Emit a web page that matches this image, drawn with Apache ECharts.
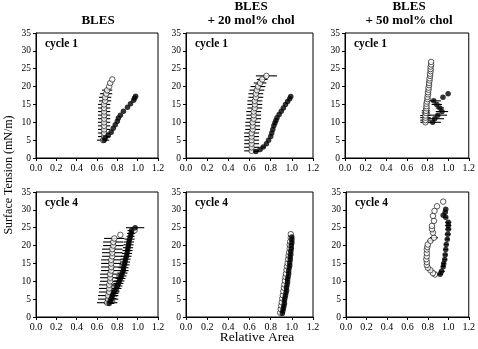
<!DOCTYPE html>
<html><head><meta charset="utf-8">
<script src="https://cdn.jsdelivr.net/npm/echarts@6/dist/echarts.min.js"></script>
<style>html,body{margin:0;padding:0;background:#fff}#c{width:478px;height:349px}</style>
</head><body><div id="c"></div>
<script>
// Tick labels / axis ranges
const xTicks = [0, 0.2, 0.4, 0.6, 0.8, 1.0, 1.2];
const yTicks = [0, 5, 10, 15, 20, 25, 30, 35];
const columnTitles = ['BLES', 'BLES\n+ 20 mol% chol', 'BLES\n+ 50 mol% chol'];
const cycleLabels = ['cycle 1', 'cycle 1', 'cycle 1', 'cycle 4', 'cycle 4', 'cycle 4'];

// Data: [relative area, surface tension, horizontal error]
const bles1Open = [[0.66,5,0.06],[0.67,6,0.06],[0.67,7,0.06],[0.67,8,0.06],[0.67,9,0.06],[0.67,10,0.06],[0.67,11,0.06],[0.67,12,0.06],[0.67,13,0.06],[0.67,14,0.06],[0.67,15,0.06],[0.68,16,0.06],[0.68,17,0.06],[0.69,18,0.06],[0.70,19,0.05],[0.72,20,0],[0.73,21,0],[0.75,22,0]];
const bles1Filled = [[0.67,5,0],[0.68,5.6,0],[0.71,6.3,0],[0.74,7.2,0],[0.76,8.3,0],[0.78,9.3,0],[0.80,10.3,0],[0.81,11.2,0],[0.83,12.0,0],[0.86,13.1,0],[0.90,14.2,0],[0.93,15.2,0],[0.96,16.2,0],[0.97,16.8,0],[0.98,17.3,0]];

const chol20c1Open = [[0.62,2,0.07],[0.62,3,0.07],[0.62,4,0.07],[0.62,5,0.07],[0.62,6,0.07],[0.62,7,0.07],[0.63,8,0.07],[0.63,9,0.07],[0.63,10,0.07],[0.64,11,0.07],[0.64,12,0.07],[0.64,13,0.07],[0.65,14,0.07],[0.65,15,0.07],[0.65,16,0.07],[0.66,17,0.07],[0.66,18,0.07],[0.67,19,0.07],[0.68,20,0.07],[0.70,21,0.06],[0.72,22,0.05],[0.76,23,0.1]];
const chol20c1Filled = [[0.66,1.8,0.03],[0.70,2.4,0],[0.73,3.1,0.02],[0.76,4.0,0],[0.78,5.0,0],[0.80,6.0,0],[0.81,7.0,0],[0.82,8.0,0],[0.83,9.0,0],[0.84,9.8,0],[0.85,10.5,0],[0.86,11.3,0],[0.88,12.2,0],[0.90,13.1,0],[0.92,14.0,0],[0.94,15.0,0],[0.96,15.8,0],[0.98,16.6,0],[0.99,17.2,0]];

const chol50c1Open = [[0.78,10,0.05],[0.78,10.6,0.05],[0.78,11.3,0.05],[0.78,11.9,0.05],[0.785,12.6,0.04],[0.785,13.2,0.04],[0.79,13.9,0.03],[0.79,14.5,0],[0.79,15.2,0],[0.795,15.8,0],[0.80,16.5,0],[0.80,17.1,0],[0.805,17.8,0],[0.805,18.4,0],[0.81,19.1,0],[0.81,19.7,0],[0.815,20.4,0],[0.815,21.0,0],[0.82,21.7,0],[0.82,22.3,0],[0.825,23.0,0],[0.825,23.6,0],[0.83,24.3,0],[0.83,24.9,0],[0.83,25.6,0],[0.835,26.2,0],[0.835,26.9,0]];
const chol50c1Filled = [[0.85,10,0.08],[0.87,11,0.09],[0.90,12,0.09],[0.94,13,0.06],[0.92,14,0.04],[0.89,15,0.05],[0.86,16,0.07],[0.95,17,0],[1.00,18,0]];

const bles4Open = [[0.70,4,0.1],[0.71,5,0.1],[0.71,6,0.1],[0.72,7,0.1],[0.72,8,0.1],[0.72,9,0.1],[0.73,10,0.1],[0.73,11,0.1],[0.73,12,0.1],[0.74,13,0.1],[0.74,14,0.1],[0.74,15,0.1],[0.74,16,0.1],[0.75,17,0.1],[0.75,18,0.1],[0.75,19,0.1],[0.76,20,0.1],[0.76,21,0.1],[0.77,22,0.1],[0.83,23,0],[0.97,24.3,0]];
const bles4Filled = [[0.72,3.8,0.05],[0.73,4.5,0.05],[0.74,5.2,0.05],[0.75,5.9,0.05],[0.76,6.6,0.05],[0.77,7.3,0.05],[0.79,8.0,0.05],[0.80,8.7,0.05],[0.81,9.4,0.05],[0.82,10.1,0.05],[0.83,10.8,0.05],[0.84,11.5,0.05],[0.85,12.3,0.05],[0.86,13.0,0.05],[0.86,13.8,0.05],[0.87,14.6,0.05],[0.875,15.4,0.05],[0.88,16.2,0.05],[0.89,17.0,0.05],[0.895,17.8,0.05],[0.90,18.6,0.05],[0.905,19.4,0.05],[0.91,20.2,0.05],[0.915,21.0,0.05],[0.92,21.8,0.05],[0.93,22.6,0.04],[0.935,23.4,0.04],[0.94,24.2,0.04],[0.975,25.0,0.09]];

const chol20c4Open = [[0.89,1.2,0],[0.895,2.2,0],[0.90,3.2,0],[0.905,4.1,0],[0.91,5.2,0],[0.915,6.1,0],[0.92,7.2,0],[0.925,8.2,0],[0.93,9.1,0],[0.935,10.2,0],[0.94,11.2,0],[0.945,12.1,0],[0.95,13.2,0],[0.955,14.2,0],[0.96,15.1,0],[0.965,16.2,0],[0.97,17.2,0],[0.975,18.1,0],[0.98,19.2,0],[0.98,20.2,0],[0.985,21.1,0],[0.99,22.2,0],[0.99,23.2,0]];
const chol20c4Filled = [[0.91,1.0,0],[0.915,1.7,0],[0.92,2.4,0],[0.925,3.1,0],[0.93,3.8,0],[0.93,4.6,0],[0.935,5.3,0],[0.94,6.0,0],[0.945,6.8,0],[0.95,7.5,0],[0.95,8.3,0],[0.955,9.0,0],[0.96,9.8,0],[0.96,10.6,0],[0.965,11.3,0],[0.97,12.1,0],[0.97,12.9,0],[0.975,13.7,0],[0.98,14.4,0],[0.98,15.2,0],[0.985,16.0,0],[0.985,16.8,0],[0.99,17.6,0],[0.99,18.4,0],[0.995,19.2,0],[0.995,20.0,0],[1.0,20.8,0],[1.0,21.6,0],[1.0,22.4,0]];

const chol50c4Open = [[0.87,11.9,0],[0.85,12.3,0],[0.825,13.1,0.03],[0.80,13.8,0.02],[0.79,14.6,0],[0.79,15.4,0],[0.785,16.2,0],[0.79,17.0,0],[0.79,17.9,0],[0.79,18.9,0],[0.795,19.6,0],[0.80,20.3,0],[0.825,21.3,0.03],[0.86,22.2,0.04],[0.85,23.6,0.02],[0.84,24.6,0],[0.84,25.5,0],[0.86,26.9,0],[0.85,28.3,0],[0.865,29.7,0],[0.89,31.0,0],[0.95,32.3,0]];
const chol50c4Filled = [[0.92,12.0,0.03],[0.935,12.8,0.03],[0.95,14.1,0.02],[0.955,15.0,0.02],[0.965,16.1,0.02],[0.97,17.4,0.02],[0.975,18.9,0.02],[0.98,20.3,0.02],[0.99,21.8,0.02],[0.995,23.2,0.03],[1.0,24.6,0.03],[1.0,25.6,0.03],[1.0,26.5,0.03],[0.975,27.9,0.02],[0.95,28.5,0],[0.97,29.3,0],[0.975,30.2,0]];

const panels = [
  [bles1Open, bles1Filled], [chol20c1Open, chol20c1Filled], [chol50c1Open, chol50c1Filled],
  [bles4Open, bles4Filled], [chol20c4Open, chol20c4Filled], [chol50c4Open, chol50c4Filled]
];

const FONT = 'Liberation Serif';
const gridBoxes = [
  {left:36, top:33, width:122, height:125},
  {left:186, top:33, width:127, height:125},
  {left:345, top:33, width:127, height:125},
  {left:36, top:192, width:122, height:125},
  {left:186, top:192, width:127, height:125},
  {left:346, top:192, width:125, height:125}
];

const grid = [], xAxis = [], yAxis = [], series = [], graphic = [];
gridBoxes.forEach((g, i) => {
  grid.push(Object.assign({show:true, borderColor:'#000', borderWidth:1, backgroundColor:'#fff'}, g));
  xAxis.push({gridIndex:i, type:'value', min:xTicks[0], max:xTicks[xTicks.length-1], interval:xTicks[1]-xTicks[0],
    axisLine:{onZero:false, lineStyle:{color:'#000', width:1}}, axisTick:{show:true, length:3, lineStyle:{color:'#000'}},
    splitLine:{show:false}, axisLabel:{color:'#000', fontFamily:FONT, fontSize:10, margin:5, formatter:v=>v.toFixed(1)}});
  yAxis.push({gridIndex:i, type:'value', min:yTicks[0], max:yTicks[yTicks.length-1], interval:yTicks[1]-yTicks[0],
    axisLine:{onZero:false, lineStyle:{color:'#000', width:1}}, axisTick:{show:true, length:3, lineStyle:{color:'#000'}},
    splitLine:{show:false}, axisLabel:{color:'#000', fontFamily:FONT, fontSize:9.5, margin:5}});
  const [open, filled] = panels[i];
  const errSeries = (data) => ({type:'custom', xAxisIndex:i, yAxisIndex:i, data:data, silent:true, z:3,
    renderItem:(params, api) => {
      const x = api.value(0), y = api.value(1), e = api.value(2);
      if (!e) return null;
      const p1 = api.coord([x - e, y]), p2 = api.coord([x + e, y]);
      return {type:'line', shape:{x1:p1[0], y1:p1[1], x2:p2[0], y2:p2[1]}, style:{stroke:'#000', lineWidth:1.1}};
    }, encode:{x:0, y:1}});
  series.push(errSeries(open));
  series.push(errSeries(filled));
  series.push({type:'scatter', xAxisIndex:i, yAxisIndex:i, data:open.map(d=>[d[0],d[1]]), symbol:'circle', symbolSize:5.5,
    itemStyle:{color:'#fff', borderColor:'#000', borderWidth:0.8}, z:4, silent:true});
  series.push({type:'scatter', xAxisIndex:i, yAxisIndex:i, data:filled.map(d=>[d[0],d[1]]), symbol:'circle', symbolSize:5.5,
    itemStyle:{color:'#000'}, z:5, silent:true});
  graphic.push({type:'text', left:g.left + 9, top:g.top + 5, z:10,
    style:{text:cycleLabels[i], font:'bold 11.5px "' + FONT + '"', fill:'#000'}});
});

const titleCenters = [98, 251, 409];
columnTitles.forEach((t, i) => {
  const lines = t.split('\n');
  graphic.push({type:'text', x:titleCenters[i], y: 28 - lines.length * 14, z:10,
    style:{text:t, font:'bold 13px "' + FONT + '"', fill:'#000', textAlign:'center', lineHeight:14}});
});
graphic.push({type:'text', x:257, y:330, z:10,
  style:{text:'Relative Area', font:'13.5px "' + FONT + '"', fill:'#000', textAlign:'center'}});
graphic.push({type:'text', x:9, y:175, rotation:Math.PI/2, z:10,
  style:{text:'Surface Tension (mN/m)', font:'12px "' + FONT + '"', fill:'#000', textAlign:'center', textVerticalAlign:'middle'}});

const chart = echarts.init(document.getElementById('c'), null, {renderer:'canvas'});
chart.setOption({animation:false, backgroundColor:'#fff', grid, xAxis, yAxis, series, graphic});
</script></body></html>
